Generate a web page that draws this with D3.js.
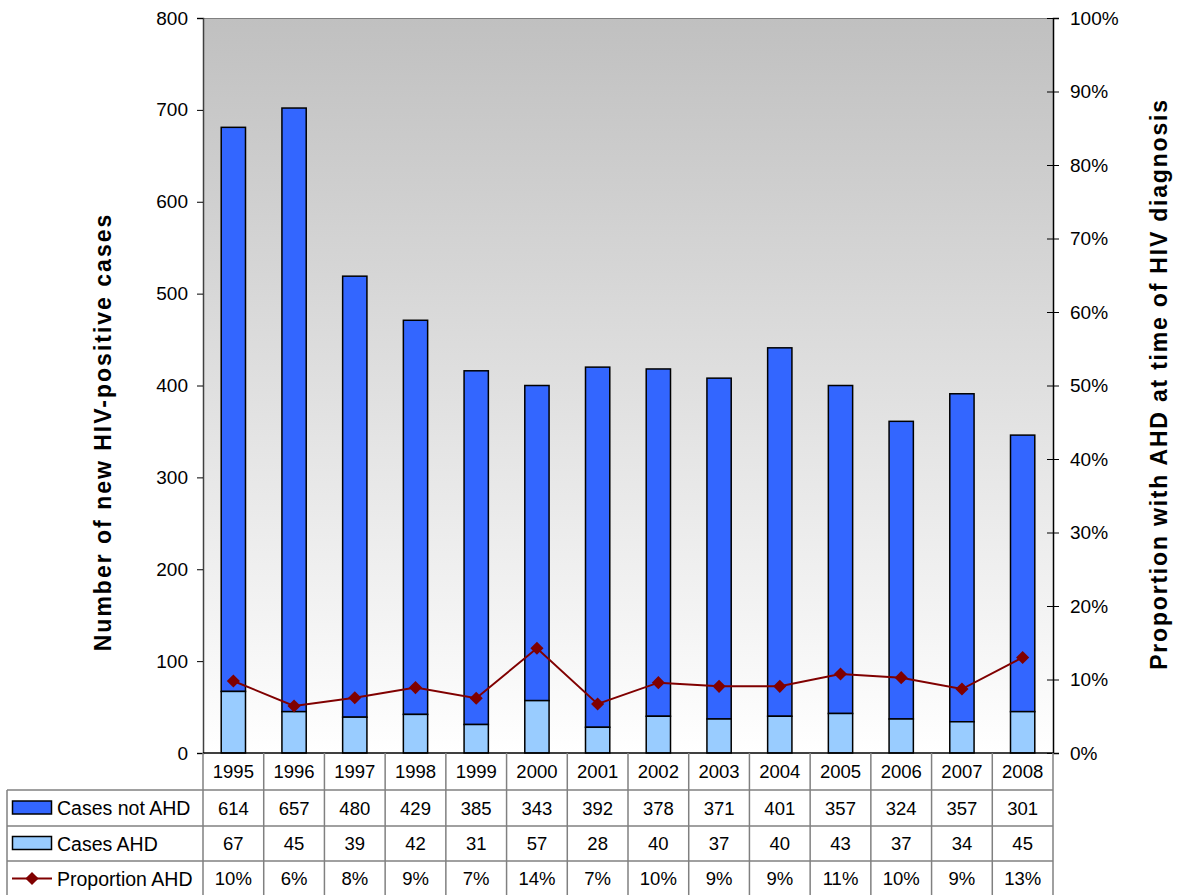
<!DOCTYPE html>
<html>
<head>
<meta charset="utf-8">
<script src="https://cdn.jsdelivr.net/npm/d3@7"></script>
<style>
  html, body { margin: 0; padding: 0; background: #fff; }
  svg { display: block; font-family: "Liberation Sans", Arial, sans-serif; }
</style>
</head>
<body>
<svg id="chart" width="1179" height="895"></svg>
<script>
// Annual new HIV-positive cases, split by advanced HIV disease (AHD) at diagnosis
const years = ["1995","1996","1997","1998","1999","2000","2001","2002","2003","2004","2005","2006","2007","2008"];
const casesNotAHD = [614, 657, 480, 429, 385, 343, 392, 378, 371, 401, 357, 324, 357, 301];
const casesAHD = [67, 45, 39, 42, 31, 57, 28, 40, 37, 40, 43, 37, 34, 45];
const proportionAHD = [0.098, 0.064, 0.0751, 0.089, 0.0745, 0.1425, 0.0667, 0.0957, 0.0907, 0.0907, 0.1075, 0.1025, 0.087, 0.130];
const leftTicks = [0, 100, 200, 300, 400, 500, 600, 700, 800];
const rightTicks = [0, 0.1, 0.2, 0.3, 0.4, 0.5, 0.6, 0.7, 0.8, 0.9, 1.0];

const colNotAHD = "#3366ff";
const colAHD = "#99ccff";
const colLine = "#800000";

const svg = d3.select("#chart");
const plot = { left: 203, right: 1053, top: 18, bottom: 753 };

const x = d3.scaleBand().domain(years).range([plot.left, plot.right]).padding(0);
const y = d3.scaleLinear().domain([0, 800]).range([plot.bottom, plot.top]);
const yP = d3.scaleLinear().domain([0, 1]).range([plot.bottom, plot.top]);

// Plot background: grey at the top fading to white
const defs = svg.append("defs");
const grad = defs.append("linearGradient").attr("id", "bg").attr("x1", 0).attr("y1", 0).attr("x2", 0).attr("y2", 1);
grad.append("stop").attr("offset", "0%").attr("stop-color", "#c0c0c0");
grad.append("stop").attr("offset", "100%").attr("stop-color", "#ffffff");
svg.append("rect")
  .attr("x", plot.left).attr("y", plot.top)
  .attr("width", plot.right - plot.left).attr("height", plot.bottom - plot.top)
  .attr("fill", "url(#bg)");
svg.append("line")
  .attr("x1", plot.left).attr("x2", plot.right).attr("y1", plot.top + 0.5).attr("y2", plot.top + 0.5)
  .attr("stroke", "#808080").attr("stroke-width", 1);

// Stacked bars
const barW = x.bandwidth() * 0.4;
const bars = svg.append("g");
years.forEach((yr, i) => {
  const bx = x(yr) + (x.bandwidth() - barW) / 2;
  const a = casesAHD[i], n = casesNotAHD[i];
  bars.append("rect")
    .attr("x", bx).attr("y", y(a + n))
    .attr("width", barW).attr("height", y(a) - y(a + n))
    .attr("fill", colNotAHD).attr("stroke", "#000").attr("stroke-width", 1.5);
  bars.append("rect")
    .attr("x", bx).attr("y", y(a))
    .attr("width", barW).attr("height", y(0) - y(a))
    .attr("fill", colAHD).attr("stroke", "#000").attr("stroke-width", 1.5);
});

// Proportion line with diamond markers
const cx = (yr) => x(yr) + x.bandwidth() / 2;
svg.append("path")
  .datum(proportionAHD)
  .attr("fill", "none").attr("stroke", colLine).attr("stroke-width", 2)
  .attr("d", d3.line().x((d, i) => cx(years[i])).y(d => yP(d)));
const diamond = d3.symbol().type(d3.symbolDiamond2).size(110);
svg.append("g").selectAll("path")
  .data(proportionAHD)
  .join("path")
  .attr("transform", (d, i) => `translate(${cx(years[i])},${yP(d)})`)
  .attr("d", diamond)
  .attr("fill", colLine);

// Left axis
const leftAxis = svg.append("g")
  .attr("transform", `translate(${plot.left},0)`)
  .call(d3.axisLeft(y).tickValues(leftTicks).tickSize(6).tickPadding(9).tickFormat(d3.format("d")));
leftAxis.select(".domain").attr("stroke", "#404040").attr("stroke-width", 1.5);
leftAxis.selectAll(".tick line").attr("stroke", "#000");
leftAxis.selectAll("text").attr("font-size", 19).attr("fill", "#000")
  .attr("font-family", "Liberation Sans, Arial, sans-serif");

// Right axis (ticks cross the axis line)
const rightAxis = svg.append("g")
  .attr("transform", `translate(${plot.right},0)`)
  .call(d3.axisRight(yP).tickValues(rightTicks).tickSize(6).tickPadding(11).tickFormat(d3.format(".0%")));
rightAxis.select(".domain").attr("stroke", "#000").attr("stroke-width", 1.5);
rightAxis.selectAll(".tick line").attr("x1", -6).attr("stroke", "#000");
rightAxis.selectAll("text").attr("font-size", 19).attr("fill", "#000")
  .attr("font-family", "Liberation Sans, Arial, sans-serif");

// Axis titles
svg.append("text")
  .attr("transform", `translate(111,432) rotate(-90)`)
  .attr("text-anchor", "middle")
  .attr("font-size", 23).attr("font-weight", "bold").attr("letter-spacing", 2)
  .text("Number of new HIV-positive cases");
svg.append("text")
  .attr("transform", `translate(1167,384) rotate(-90)`)
  .attr("text-anchor", "middle")
  .attr("font-size", 23).attr("font-weight", "bold").attr("letter-spacing", 1.8)
  .text("Proportion with AHD at time of HIV diagnosis");

// Data table beneath the chart
const rowTop = [753, 790, 826, 861];
const rowBottom = [790, 826, 861, 896];
const tableLeft = 7;
const grid = svg.append("g").attr("stroke", "#808080").attr("stroke-width", 1.5).attr("fill", "none");
// horizontal lines
grid.append("line").attr("x1", plot.left).attr("x2", plot.right).attr("y1", rowTop[0]).attr("y2", rowTop[0]).attr("stroke", "#000");
[1, 2, 3].forEach(r => {
  grid.append("line").attr("x1", tableLeft).attr("x2", plot.right).attr("y1", rowTop[r]).attr("y2", rowTop[r]);
});
// vertical lines
grid.append("line").attr("x1", tableLeft).attr("x2", tableLeft).attr("y1", rowTop[1]).attr("y2", 895);
years.forEach(yr => {
  grid.append("line").attr("x1", x(yr)).attr("x2", x(yr)).attr("y1", rowTop[0]).attr("y2", 895);
});
grid.append("line").attr("x1", plot.right).attr("x2", plot.right).attr("y1", rowTop[0]).attr("y2", 895);

const rowText = [
  years,
  casesNotAHD.map(d3.format("d")),
  casesAHD.map(d3.format("d")),
  proportionAHD.map(d3.format(".0%"))
];
rowText.forEach((vals, r) => {
  const cy = (rowTop[r] + rowBottom[r]) / 2;
  svg.append("g").selectAll("text")
    .data(vals)
    .join("text")
    .attr("x", (d, i) => cx(years[i]))
    .attr("y", cy)
    .attr("dy", "0.36em")
    .attr("text-anchor", "middle")
    .attr("font-size", 18.5)
    .text(d => d);
});

// Legend keys in the table's first column
const legendRows = [
  { label: "Cases not AHD", type: "bar", fill: colNotAHD },
  { label: "Cases AHD", type: "bar", fill: colAHD },
  { label: "Proportion AHD", type: "line", fill: colLine }
];
legendRows.forEach((lg, k) => {
  const r = k + 1;
  const cy = (rowTop[r] + rowBottom[r]) / 2;
  if (lg.type === "bar") {
    svg.append("rect").attr("x", 12.5).attr("y", cy - 7).attr("width", 39).attr("height", 13)
      .attr("fill", lg.fill).attr("stroke", "#000").attr("stroke-width", 1.5);
  } else {
    svg.append("line").attr("x1", 12).attr("x2", 52).attr("y1", cy).attr("y2", cy)
      .attr("stroke", lg.fill).attr("stroke-width", 2);
    svg.append("path").attr("transform", `translate(32,${cy})`).attr("d", diamond).attr("fill", lg.fill);
  }
  svg.append("text").attr("x", 57).attr("y", cy).attr("dy", "0.36em")
    .attr("font-size", 19.5).text(lg.label);
});
</script>
</body>
</html>
